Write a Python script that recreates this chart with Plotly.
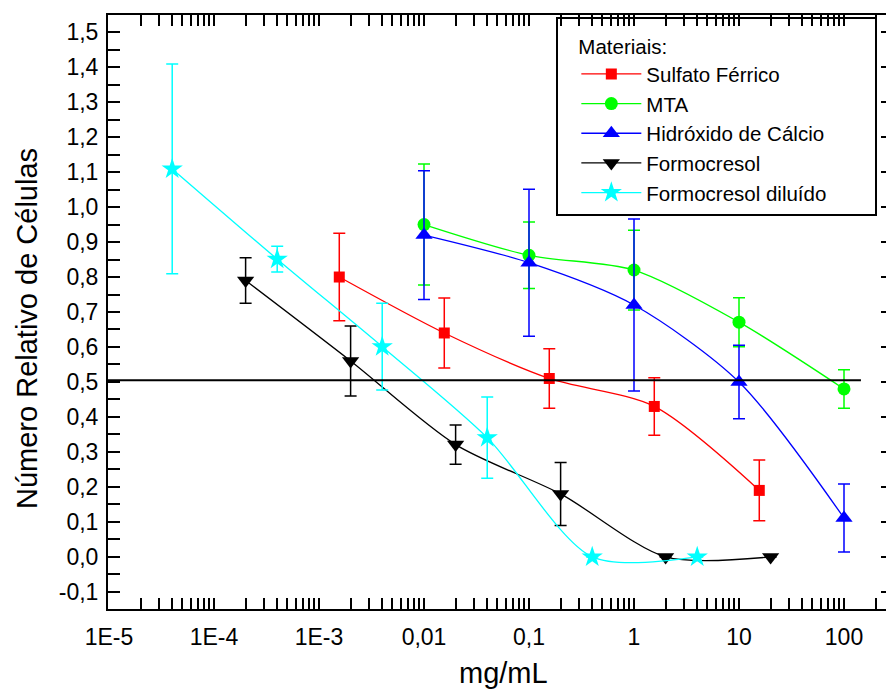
import plotly.graph_objects as go

# ---------------- data ----------------
sulf_x = [1.56e-3, 0.0156, 0.156, 1.56, 15.6]
sulf_y = [0.80, 0.64, 0.51, 0.43, 0.19]
sulf_e = [0.125, 0.10, 0.085, 0.082, 0.087]

mta_x = [0.01, 0.1, 1, 10, 100]
mta_y = [0.95, 0.862, 0.82, 0.671, 0.48]
mta_e = [0.173, 0.095, 0.114, 0.07, 0.055]

hidr_x = [0.01, 0.1, 1, 10, 100]
hidr_y = [0.92, 0.841, 0.72, 0.50, 0.111]
hidr_e = [0.184, 0.21, 0.246, 0.105, 0.097]

form_x = [2e-4, 2e-3, 0.02, 0.2, 2, 20]
form_y = [0.79, 0.56, 0.321, 0.18, 0.0, 0.0]
form_e = [0.065, 0.10, 0.056, 0.09, 0.0, 0.0]

fdil_x = [4e-5, 4e-4, 4e-3, 0.04, 0.4, 4]
fdil_y = [1.109, 0.851, 0.601, 0.341, 0.0, 0.0]
fdil_e = [0.30, 0.037, 0.124, 0.116, 0.0, 0.0]

ref_level = 0.505
ref_x = [10 ** -5.0095, 145]

x_tickvals = [1e-5, 1e-4, 1e-3, 1e-2, 1e-1, 1, 10, 100]
x_ticktext = ["1E-5", "1E-4", "1E-3", "0,01", "0,1", "1", "10", "100"]

y_tickvals = [-0.1, 0.0, 0.1, 0.2, 0.3, 0.4, 0.5, 0.6, 0.7, 0.8,
              0.9, 1.0, 1.1, 1.2, 1.3, 1.4, 1.5]
y_ticktext = ["-0,1", "0,0", "0,1", "0,2", "0,3", "0,4", "0,5", "0,6", "0,7",
              "0,8", "0,9", "1,0", "1,1", "1,2", "1,3", "1,4", "1,5"]

FONT = "Liberation Sans, Arial, sans-serif"

series = [
    ("Sulfato Férrico", sulf_x, sulf_y, sulf_e, "#ff0000", "square", 11),
    ("MTA", mta_x, mta_y, mta_e, "#00ff00", "circle", 13),
    ("Hidróxido de Cálcio", hidr_x, hidr_y, hidr_e, "#0000ff", "triangle-up", 15),
    ("Formocresol", form_x, form_y, form_e, "#000000", "triangle-down", 15),
    ("Formocresol diluído", fdil_x, fdil_y, fdil_e, "#00ffff", "star", 16),
]

fig = go.Figure()

# horizontal reference line (on overlay axis that carries the right-side ticks)
fig.add_trace(go.Scatter(
    x=ref_x, y=[ref_level, ref_level], mode="lines",
    line=dict(color="black", width=2), showlegend=False, hoverinfo="skip",
    yaxis="y2",
))

for i, (name, xs, ys, es, col, sym, sz) in enumerate(series):
    fig.add_trace(go.Scatter(
        x=xs, y=ys, name=name,
        mode="lines+markers",
        line=dict(color=col, width=1.3, shape="spline", smoothing=0.8),
        marker=dict(symbol=sym, size=sz, color=col, line=dict(width=0)),
        error_y=dict(type="data", array=es, visible=True, color=col,
                     thickness=1.5, width=6),
    ))

minor_vals = [k * 10 ** e for e in range(-6, 3) for k in range(2, 10)]
y_minor_vals = [v + 0.05 for v in y_tickvals] + [-0.15]

fig.update_layout(
    width=886, height=690,
    margin=dict(l=108, r=0, t=15, b=81),
    paper_bgcolor="white", plot_bgcolor="white",
    font=dict(family=FONT, size=22, color="black"),
    showlegend=True,
    legend=dict(
        x=(581 - 108) / 778 - 0.006, y=0.979, xanchor="left", yanchor="top",
        bgcolor="rgba(255,255,255,0)", borderwidth=0,
        font=dict(family=FONT, size=20.5, color="black"),
        title=dict(text="Materiais:", font=dict(family=FONT, size=20.5)),
        itemwidth=60, traceorder="normal",
    ),
    xaxis=dict(
        type="log", range=[-5.0095, 2.40],
        tickmode="array", tickvals=x_tickvals, ticktext=x_ticktext,
        ticks="inside", ticklen=11, tickwidth=1.5, tickcolor="black",
        showline=True, linecolor="black", linewidth=2, mirror="allticks",
        showgrid=False, zeroline=False,
        tickfont=dict(family=FONT, size=23), ticklabelstandoff=6,
        minor=dict(tickmode="array", tickvals=minor_vals, ticks="inside",
                   ticklen=6, tickwidth=1.5, tickcolor="black", showgrid=False),
    ),
    yaxis=dict(
        range=[-0.149, 1.549], tickmode="array",
        tickvals=y_tickvals, ticktext=y_ticktext,
        ticks="inside", ticklen=12, tickwidth=1.5, tickcolor="black",
        showline=True, linecolor="black", linewidth=2, mirror=False,
        showgrid=False, zeroline=False,
        tickfont=dict(family=FONT, size=23), ticklabelstandoff=3,
        minor=dict(tickmode="array", tickvals=y_minor_vals, ticks="inside",
                   ticklen=12, tickwidth=1.5, tickcolor="black", showgrid=False),
    ),
    yaxis2=dict(
        overlaying="y", side="right", anchor="x", matches="y",
        range=[-0.149, 1.549], tickmode="array", tickvals=y_tickvals,
        ticks="inside", ticklen=5, tickwidth=1.5, tickcolor="black",
        showticklabels=False, showline=False, showgrid=False, zeroline=False,
    ),
    shapes=[dict(
        type="rect", xref="paper", yref="paper",
        x0=(557 - 108) / 778, x1=(876 - 108) / 778,
        y0=(609 - 215) / 594, y1=(609 - 18) / 594,
        line=dict(color="black", width=2), fillcolor="rgba(0,0,0,0)", layer="above",
    )],
    annotations=[
        dict(text="mg/mL", xref="paper", yref="paper",
             x=(503 - 108) / 778, y=(609 - 673) / 594,
             xanchor="center", yanchor="middle", showarrow=False,
             font=dict(family=FONT, size=29)),
        dict(text="Número Relativo de Células", xref="paper", yref="paper",
             x=(27 - 108) / 778, y=(609 - 329) / 594, textangle=-90,
             xanchor="center", yanchor="middle", showarrow=False,
             font=dict(family=FONT, size=29)),
    ],
)

fig.write_html("out.html", config={"displayModeBar": False},
               post_script="document.body.style.margin='0';")
